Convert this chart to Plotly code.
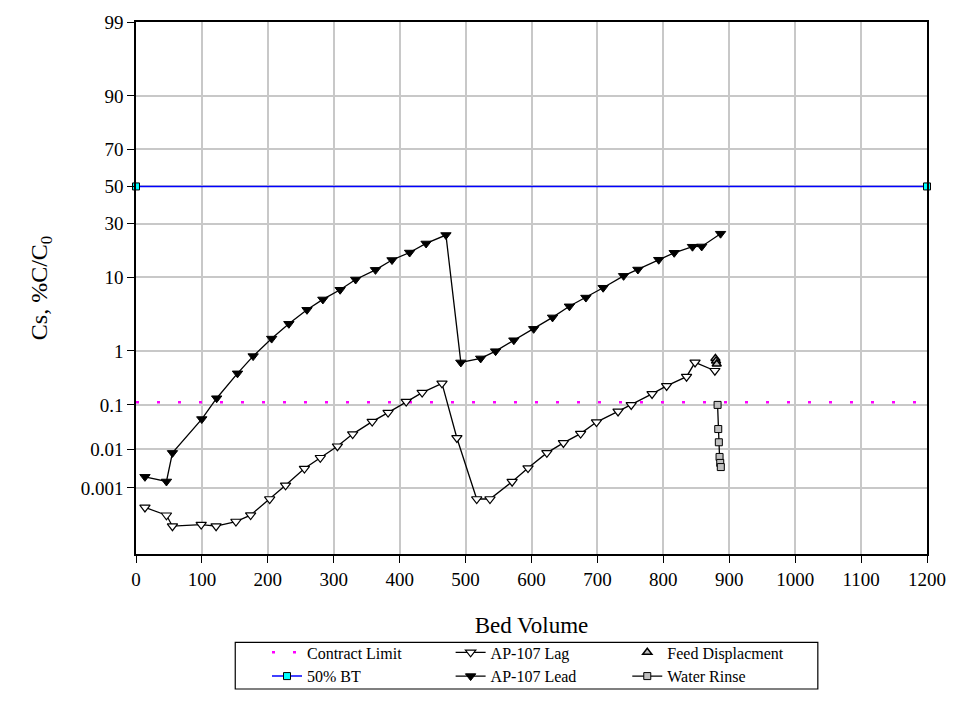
import plotly.graph_objects as go
from statistics import NormalDist

# ---------------- data (values in %C/C0) ----------------
lead_x = [13.6, 46.2, 55.3, 99.8, 122.4, 154, 177.7, 205.8, 231.9, 259.4, 283.5, 309.7,
          333.2, 363.3, 388.4, 415.1, 440.1, 470.2, 492.8, 522.9, 545.5, 573.2, 603.3,
          631.9, 657.5, 682.5, 708.7, 739.7, 761.4, 793, 816.5, 844.2, 858.2, 886.8]
lead_y = [0.0020, 0.0015, 0.0082, 0.050, 0.137, 0.41, 0.82, 1.57, 2.6, 4.05, 5.5, 7.2,
          9.4, 11.9, 14.9, 17.5, 21.0, 24.6, 0.64, 0.75, 0.99, 1.48, 2.2,
          3.2, 4.5, 5.8, 7.6, 10.3, 12.0, 15.0, 17.4, 19.7, 19.8, 25.2]

lag_x = [13.6, 46.2, 55.3, 98.9, 121.5, 151.6, 173.9, 202.8, 226.9, 255.5, 279.6, 305.6,
         328.7, 358.3, 382.4, 409.9, 434.1, 464.2, 486.8, 516.9, 537.0, 570.6, 594.7,
         623.3, 648.4, 674.5, 698.6, 731.3, 751.3, 782.9, 805.0, 835.2, 848.1, 878.2]
lag_y = [0.00028, 0.000165, 0.000077, 0.000086, 0.000077, 0.000107, 0.000167, 0.00049,
         0.00118, 0.0033, 0.0062, 0.0119, 0.023, 0.044, 0.069, 0.117, 0.177, 0.268,
         0.0187, 0.00049, 0.00049, 0.00148, 0.0034, 0.0082, 0.0143, 0.0236, 0.043,
         0.073, 0.100, 0.167, 0.239, 0.356, 0.64, 0.457]

feed_x = [879, 880, 881]
feed_y = [0.75, 0.68, 0.60]

rinse_x = [882.3, 883.3, 884.2, 885.3, 886.3, 887.2]
rinse_y = [0.100, 0.030, 0.0148, 0.0065, 0.0046, 0.0036]

bt_x = [0, 1200]
bt_y = [50, 50]

limit_x = [0, 1200]
limit_y = [0.114, 0.114]

y_ticks = [0.001, 0.01, 0.1, 1, 10, 30, 50, 70, 90, 99]
y_tick_text = ["0.001", "0.01", "0.1", "1", "10", "30", "50", "70", "90", "99"]
x_ticks = list(range(0, 1201, 100))
y_min_pct, y_max_pct = 1e-5, 99

# ---------------- probability scale ----------------
nd = NormalDist()
def prob(vals):
    return [nd.inv_cdf(v / 100.0) for v in vals]

FONT = "Liberation Serif, 'Times New Roman', Times, serif"

fig = go.Figure()

fig.add_trace(go.Scatter(
    x=limit_x, y=prob(limit_y), mode="lines", name="Contract Limit",
    line=dict(color="#ff00ff", width=2.5, dash="3px,18px"), legend="legend"))
fig.add_trace(go.Scatter(
    x=bt_x, y=prob(bt_y), mode="lines+markers", name="50% BT",
    line=dict(color="#0000ff", width=1.5),
    marker=dict(symbol="square", size=7, color="#00ffff", line=dict(color="black", width=1)),
    legend="legend", cliponaxis=False))
fig.add_trace(go.Scatter(
    x=lag_x, y=prob(lag_y), mode="lines+markers", name="AP-107 Lag",
    line=dict(color="black", width=1.3),
    marker=dict(symbol="triangle-down", size=9, color="white", line=dict(color="black", width=1.2)),
    legend="legend2"))
fig.add_trace(go.Scatter(
    x=lead_x, y=prob(lead_y), mode="lines+markers", name="AP-107 Lead",
    line=dict(color="black", width=1.3),
    marker=dict(symbol="triangle-down", size=9, color="black", line=dict(color="black", width=1)),
    legend="legend2"))
fig.add_trace(go.Scatter(
    x=feed_x, y=prob(feed_y), mode="markers", name="Feed Displacment",
    marker=dict(symbol="triangle-up", size=8, color="#c0c0c0", line=dict(color="black", width=1.5)),
    legend="legend3"))
fig.add_trace(go.Scatter(
    x=rinse_x, y=prob(rinse_y), mode="lines+markers", name="Water Rinse",
    line=dict(color="black", width=1.3),
    marker=dict(symbol="square", size=7, color="#c0c0c0", line=dict(color="black", width=1)),
    legend="legend3"))

W, H = 958, 719
L, R, T, B = 136, 25, 18, 165
pw, ph = W - L - R, H - T - B
def px_x(px):
    return (px - L) / pw
def px_y(py):
    return (H - B - py) / ph

leg_common = dict(font=dict(family=FONT, size=16, color="black"), bgcolor="rgba(0,0,0,0)",
                  borderwidth=0, orientation="v", yanchor="top", xanchor="left",
                  tracegroupgap=0, itemsizing="trace")

fig.update_layout(
    width=W, height=H,
    margin=dict(l=L, r=R, t=T, b=B),
    paper_bgcolor="white", plot_bgcolor="white",
    font=dict(family=FONT, color="black"),
    legend=dict(x=px_x(268), y=px_y(636), **leg_common),
    legend2=dict(x=px_x(453), y=px_y(636), **leg_common),
    legend3=dict(x=px_x(631), y=px_y(636), **leg_common),
    shapes=[dict(type="rect", xref="paper", yref="paper",
                 x0=px_x(236), x1=px_x(823), y0=px_y(690), y1=px_y(643),
                 line=dict(color="black", width=1.2), fillcolor="rgba(0,0,0,0)")],
)

fig.update_xaxes(
    range=[0, 1200], tickvals=x_ticks, ticks="outside", ticklen=7, tickcolor="black",
    showline=True, linecolor="black", linewidth=1.5, mirror=True,
    showgrid=True, gridcolor="#c8c8c8", gridwidth=1.5, zeroline=False,
    tickfont=dict(family=FONT, size=19),
    title=dict(text="Bed Volume", font=dict(family=FONT, size=23), standoff=28))
fig.update_yaxes(
    range=[nd.inv_cdf(y_min_pct / 100), nd.inv_cdf(y_max_pct / 100)],
    tickvals=prob(y_ticks), ticktext=y_tick_text, ticks="outside", ticklen=7, tickcolor="black",
    showline=True, linecolor="black", linewidth=1.5, mirror=True,
    showgrid=True, gridcolor="#c8c8c8", gridwidth=1.5, zeroline=False,
    tickfont=dict(family=FONT, size=19),
    title=dict(text="Cs, %C/C<sub>0</sub>", font=dict(family=FONT, size=24), standoff=26))

fig.write_html("out.html")
